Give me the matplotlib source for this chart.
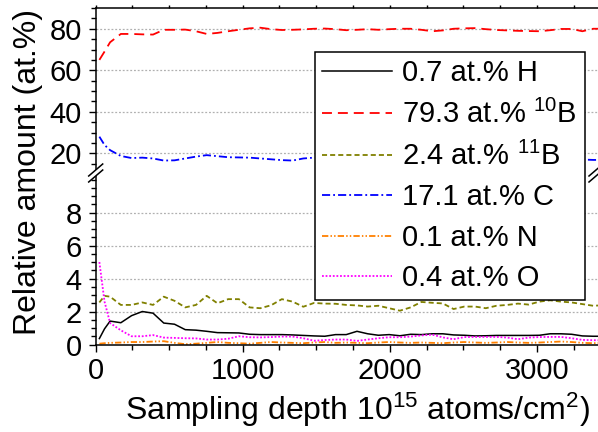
import numpy as np
import matplotlib.pyplot as plt
from matplotlib.lines import Line2D
from matplotlib.ticker import MultipleLocator, FixedLocator

plt.rcParams['font.family'] = ['Liberation Sans', 'DejaVu Sans']
plt.rcParams['mathtext.default'] = 'regular'
plt.rcParams['font.size'] = 21

# sampling depth (1e15 atoms/cm2)
depth = [25, 60, 98, 171, 244, 317, 390, 463, 536, 609, 682, 755, 828, 901, 974,
         1047, 1120, 1193, 1266, 1339, 1412, 1485, 1558, 1631, 1704, 1777, 1850,
         1923, 1996, 2069, 2142, 2215, 2288, 2361, 2434, 2507, 2580, 2653, 2726,
         2799, 2872, 2945, 3018, 3091, 3164, 3237, 3310, 3383, 3456]

h = [0.36, 0.95, 1.42, 1.32, 1.75, 2.0, 1.9, 1.3, 1.23, 0.9, 0.87, 0.8, 0.72, 0.71, 0.7,
     0.62, 0.6, 0.6, 0.6, 0.58, 0.55, 0.52, 0.5, 0.6, 0.6, 0.8, 0.65,
     0.56, 0.6, 0.53, 0.62, 0.6, 0.65, 0.65, 0.58, 0.56, 0.52, 0.53, 0.55,
     0.55, 0.55, 0.55, 0.56, 0.65, 0.65, 0.62, 0.52, 0.5, 0.5]
b10 = [65, 69, 73.5, 77.5, 77.5, 77.3, 77.2, 79.5, 79.5, 79.6, 78.8, 77.5, 78, 78.8, 79.5,
       80.2, 80.5, 79.8, 79.4, 79.5, 79.7, 80, 80.1, 79.8, 79.3, 79.5, 79.8,
       79.5, 79.8, 80, 80, 79.5, 78.8, 79.2, 80, 80.2, 80.3, 79.8, 79.4,
       79.2, 79, 78.9, 78.8, 79.3, 79.9, 79.9, 78.8, 80, 80]
b11 = [2.55, 2.95, 2.9, 2.4, 2.4, 2.55, 2.4, 2.9, 2.65, 2.25, 2.4, 2.95, 2.5, 2.75, 2.75,
       2.25, 2.2, 2.38, 2.75, 2.6, 2.29, 2.52, 2.48, 2.47, 2.4, 2.37, 2.3,
       2.35, 2.2, 2.05, 2.25, 2.58, 2.53, 2.49, 2.15, 2.3, 2.3, 2.2, 2.35,
       2.4, 2.48, 2.42, 2.6, 2.68, 2.6, 2.55, 2.45, 2.35, 2.38]
c = [28, 24, 21.5, 18.7, 17.7, 17.9, 17.5, 16.5, 16.6, 17.5, 18.4, 19.1, 18.6, 18.1, 18.0,
     17.9, 17.5, 17.1, 16.7, 16.5, 17.5, 17.9, 17.8, 17.6, 17.4, 17.5, 17.3,
     17.2, 17.4, 17.6, 17.3, 17.1, 17.2, 17.4, 17.5, 17.3, 17.0, 17.2, 17.4,
     17.3, 17.1, 17.2, 17.4, 17.3, 17.2, 17.1, 17.0, 16.8, 16.8]
n = [0.05, 0.08, 0.1, 0.12, 0.15, 0.15, 0.18, 0.2, 0.1, 0.02, 0.05, 0.1, 0.15, 0.1, 0.08,
     0.05, 0.1, 0.15, 0.12, 0.1, 0.08, 0.12, 0.15, 0.1, 0.12, 0.1, 0.08,
     0.12, 0.15, 0.12, 0.1, 0.12, 0.1, 0.08, 0.12, 0.15, 0.12, 0.1, 0.12,
     0.15, 0.12, 0.1, 0.12, 0.15, 0.18, 0.15, 0.1, 0.08, 0.1]
o = [5.0, 2.6, 1.3, 0.86, 0.5, 0.5, 0.57, 0.42, 0.4, 0.38, 0.37, 0.3, 0.3, 0.35, 0.5,
     0.44, 0.43, 0.45, 0.48, 0.48, 0.38, 0.23, 0.27, 0.3, 0.3, 0.22, 0.3,
     0.38, 0.44, 0.44, 0.48, 0.55, 0.6, 0.43, 0.32, 0.45, 0.46, 0.46, 0.46,
     0.42, 0.32, 0.42, 0.45, 0.46, 0.46, 0.38, 0.28, 0.26, 0.26]

labels = ['0.7 at.% H', '79.3 at.% $^{10}$B', '2.4 at.% $^{11}$B',
          '17.1 at.% C', '0.1 at.% N', '0.4 at.% O']

W, H = 598, 432
fig = plt.figure(figsize=(W / 100, H / 100), dpi=100)
x0, x1 = 95.7 / W, 600 / W
ybrk = 1 - 173 / H
ax_lo = fig.add_axes([x0, 1 - 344.5 / H, x1 - x0, ybrk - (1 - 344.5 / H)])
ax_hi = fig.add_axes([x0, ybrk, x1 - x0, (1 - 8 / H) - ybrk])

lw = 1.3
sty = dict(
    h=dict(color='black', ls='-', lw=1.1),
    b10=dict(color='#FF0000', ls=(0, (5.5, 3.3)), lw=lw),
    b11=dict(color='#808000', ls=(0, (2.8, 1.7)), lw=lw),
    c=dict(color='#0000FF', ls=(0, (4.5, 1.7, 1, 1.7)), lw=lw),
    n=dict(color='#FF8000', ls=(0, (3.5, 1.2, 0.8, 1.2, 0.8, 1.2)), lw=lw),
    o=dict(color='#FF00FF', ls=(0, (1, 1)), lw=lw),
)

handles = []
for ax in (ax_lo, ax_hi):
    l1, = ax.plot(depth, h, **sty['h'])
    l2, = ax.plot(depth, b10, **sty['b10'])
    l3, = ax.plot(depth, b11, **sty['b11'])
    l4, = ax.plot(depth, c, **sty['c'])
    l5, = ax.plot(depth, n, **sty['n'])
    l6, = ax.plot(depth, o, **sty['o'])
    handles = [l1, l2, l3, l4, l5, l6]
    ax.set_xlim(0, 3430)
    ax.xaxis.set_major_locator(MultipleLocator(1000))
    ax.xaxis.set_minor_locator(MultipleLocator(250))
    ax.grid(True, axis='y', color='#b0b0b0', ls=(0, (1.5, 1.5)), lw=0.9)
    ax.set_axisbelow(True)
    ax.tick_params(which='both', direction='out', width=1, pad=5)
    ax.tick_params(which='major', length=5)
    ax.tick_params(which='minor', length=3.5)
    for s in ax.spines.values():
        s.set_linewidth(1.1)

ax_lo.set_ylim(0, 10.4)
ax_lo.yaxis.set_major_locator(FixedLocator([0, 2, 4, 6, 8]))
ax_lo.yaxis.set_minor_locator(MultipleLocator(0.5))
ax_lo.spines['top'].set_visible(False)
ax_lo.tick_params(axis='x', which='both', top=False, bottom=True, pad=4)
ax_lo.set_xticks([0, 1000, 2000, 3000])

ax_hi.set_ylim(10.5, 90)
ax_hi.yaxis.set_major_locator(FixedLocator([20, 40, 60, 80]))
ax_hi.yaxis.set_minor_locator(MultipleLocator(5))
ax_hi.spines['bottom'].set_visible(False)
ax_hi.tick_params(axis='x', which='both', bottom=False, top=True,
                  labelbottom=False, labeltop=False, length=2.5)

ax_lo.set_xlabel('Sampling depth 10$^{15}$ atoms/cm$^{2}$)', fontsize=23)
ax_lo.xaxis.set_label_coords((357 - 95.7) / (600 - 95.7), -0.27)
fig.text(28 / W, 1 - 172 / H, 'Relative amount (at.%)', rotation=90,
         ha='center', va='center', fontsize=23)

# axis break marks
yb = ybrk
for xb in (x0, 596 / W):
    fig.patches.append(plt.Polygon([[xb - 7 / W, yb - 9 / H], [xb + 7 / W, yb + 3 / H],
                                    [xb + 7 / W, yb + 9 / H], [xb - 7 / W, yb - 3 / H]],
                                   closed=True, transform=fig.transFigure,
                                   facecolor='white', edgecolor='none', zorder=10))
    for dy in (-3, 3):
        fig.lines.append(Line2D([xb - 7 / W, xb + 7 / W],
                                [yb + (dy - 6) / H, yb + (dy + 6) / H],
                                transform=fig.transFigure, color='black', lw=1.1,
                                zorder=11))

leg = fig.legend(handles, labels, loc='upper left',
                 bbox_to_anchor=(315 / W, 1 - 52 / H), borderaxespad=0,
                 fontsize=21, handlelength=2.4, handletextpad=0.35,
                 labelspacing=0.43, borderpad=0.25, fancybox=False,
                 framealpha=1, edgecolor='black')
leg.get_frame().set_linewidth(1.1)

fig.savefig('out.png', dpi=100)
